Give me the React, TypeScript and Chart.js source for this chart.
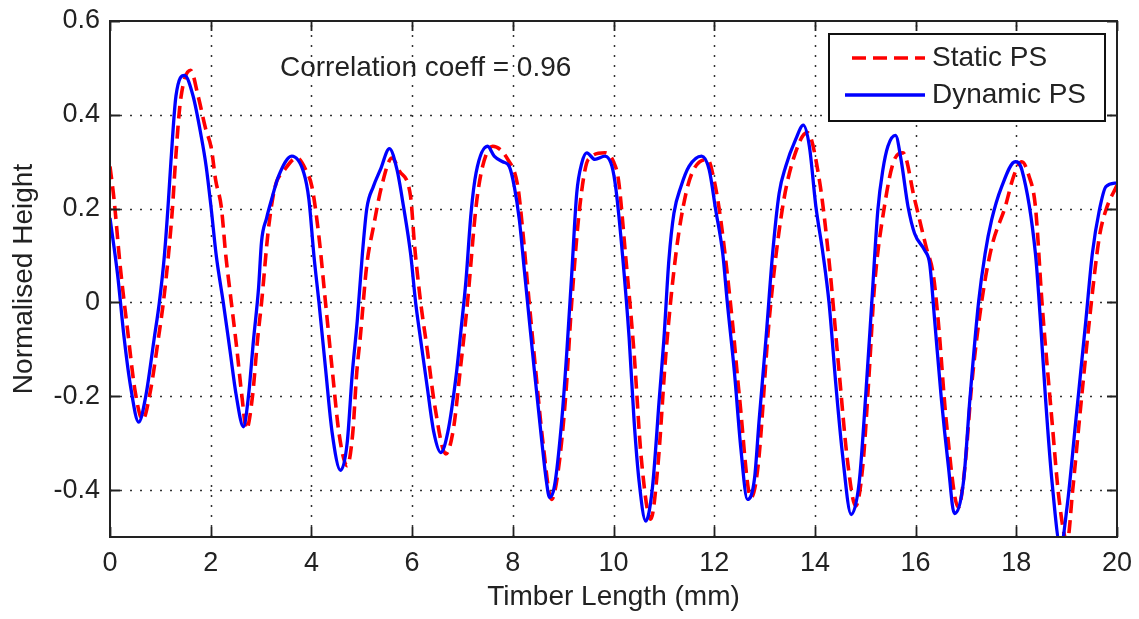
import React, { useEffect, useRef } from "react";
import { Chart, registerables } from "chart.js";

Chart.register(...registerables);

// ---- Data ----
const dynamicX = [
  0, 0.15, 0.28, 0.41, 0.57, 0.71, 0.88, 0.98, 1.08, 1.15, 1.21, 1.31, 1.48, 1.65, 1.81, 1.91, 2.01, 2.11, 2.25, 2.38,
  2.51, 2.65, 2.75, 2.85, 2.95, 3.01, 3.11, 3.21, 3.35, 3.61, 3.85, 3.95, 4.05, 4.15, 4.28, 4.41, 4.58, 4.71, 4.81, 4.91,
  5.01, 5.1, 5.23, 5.37, 5.55, 5.7, 5.83, 5.97, 6.07, 6.17, 6.3, 6.43, 6.57, 6.71, 6.87, 6.97, 7.07, 7.17, 7.27, 7.5,
  7.63, 7.8, 7.93, 8.03, 8.13, 8.23, 8.33, 8.43, 8.57, 8.67, 8.73, 8.83, 8.97, 9.07, 9.17, 9.27, 9.37, 9.47, 9.63, 9.83,
  9.97, 10.05, 10.18, 10.31, 10.41, 10.51, 10.64, 10.77, 10.91, 11.0, 11.1, 11.2, 11.34, 11.5, 11.75, 11.9, 12.03, 12.17, 12.26, 12.4,
  12.53, 12.66, 12.8, 12.89, 13.03, 13.16, 13.29, 13.42, 13.62, 13.77, 13.89, 14.02, 14.16, 14.28, 14.42, 14.55, 14.72, 14.88, 15.01, 15.13,
  15.25, 15.35, 15.45, 15.6, 15.71, 15.85, 15.98, 16.18, 16.28, 16.38, 16.51, 16.65, 16.77, 16.95, 17.08, 17.25, 17.38, 17.51, 17.71, 17.98,
  18.11, 18.38, 18.48, 18.58, 18.71, 18.88, 19.01, 19.18, 19.38, 19.51, 19.65, 19.78, 20,
];
const dynamicY = [
  0.18, 0.06, -0.075, -0.18, -0.255, -0.2, -0.075, 0, 0.1, 0.2, 0.3, 0.44, 0.484, 0.44, 0.355, 0.29, 0.2, 0.1, 0, -0.1,
  -0.2, -0.265, -0.2, -0.08, 0.03, 0.13, 0.18, 0.22, 0.27, 0.312, 0.276, 0.22, 0.1, 0, -0.14, -0.276, -0.358, -0.3, -0.154, -0.04,
  0.1, 0.2, 0.247, 0.283, 0.328, 0.283, 0.204, 0.104, 0, -0.08, -0.18, -0.276, -0.32, -0.276, -0.16, -0.06, 0.047, 0.19, 0.276, 0.333,
  0.312, 0.3, 0.29, 0.247, 0.176, 0.068, -0.04, -0.147, -0.29, -0.383, -0.416, -0.39, -0.254, -0.11, 0.06, 0.233, 0.297, 0.319, 0.305, 0.312,
  0.29, 0.24, 0.1, -0.075, -0.254, -0.383, -0.466, -0.398, -0.204, -0.08, 0.09, 0.19, 0.247, 0.29, 0.312, 0.283, 0.197, 0.104, 0, -0.147,
  -0.312, -0.42, -0.376, -0.254, -0.075, 0.104, 0.233, 0.29, 0.348, 0.378, 0.333, 0.204, 0.104, 0, -0.18, -0.326, -0.452, -0.383, -0.197, 0,
  0.197, 0.283, 0.333, 0.356, 0.305, 0.204, 0.147, 0.111, 0.082, -0.04, -0.204, -0.348, -0.45, -0.383, -0.204, 0, 0.104, 0.176, 0.247, 0.3,
  0.283, 0.104, -0.04, -0.204, -0.383, -0.52, -0.434, -0.254, -0.04, 0.104, 0.197, 0.247, 0.255,
];

const staticX = [
  0, 0.08, 0.2, 0.35, 0.5, 0.65, 0.8, 0.97, 1.06, 1.16, 1.24, 1.3, 1.4, 1.6, 1.75, 1.9, 2.01, 2.1, 2.21, 2.3,
  2.41, 2.52, 2.62, 2.71, 2.83, 2.93, 3.01, 3.15, 3.28, 3.45, 3.71, 3.9, 4.01, 4.15, 4.28, 4.42, 4.55, 4.71, 4.82, 4.9,
  4.97, 5.1, 5.23, 5.4, 5.6, 5.75, 5.97, 6.05, 6.17, 6.3, 6.45, 6.67, 6.82, 6.95, 7.1, 7.27, 7.4, 7.6, 7.9, 8.1,
  8.2, 8.3, 8.45, 8.6, 8.77, 8.9, 9.05, 9.17, 9.33, 9.5, 9.83, 10.0, 10.1, 10.24, 10.41, 10.55, 10.74, 10.88, 11.04, 11.24,
  11.44, 11.6, 11.87, 12.0, 12.13, 12.36, 12.5, 12.73, 12.87, 13.09, 13.36, 13.66, 13.85, 14.09, 14.28, 14.48, 14.65, 14.81, 14.95, 15.08,
  15.18, 15.38, 15.58, 15.75, 15.98, 16.21, 16.35, 16.45, 16.61, 16.85, 16.98, 17.11, 17.31, 17.51, 17.78, 17.95, 18.11, 18.25, 18.38, 18.51,
  18.71, 18.85, 19.01, 19.12, 19.25, 19.45, 19.65, 19.78, 20,
];
const staticY = [
  0.29, 0.22, 0.08, -0.06, -0.19, -0.25, -0.19, -0.07, 0, 0.1, 0.2, 0.3, 0.43, 0.495, 0.44, 0.37, 0.33, 0.26, 0.204, 0.1,
  0, -0.1, -0.2, -0.27, -0.2, -0.08, 0, 0.16, 0.247, 0.28, 0.308, 0.28, 0.247, 0.14, 0, -0.15, -0.28, -0.348, -0.28, -0.15,
  -0.075, 0.08, 0.16, 0.25, 0.308, 0.28, 0.226, 0.12, 0, -0.1, -0.22, -0.323, -0.27, -0.15, 0, 0.204, 0.29, 0.333, 0.305, 0.247,
  0.15, 0.03, -0.14, -0.3, -0.42, -0.36, -0.2, 0, 0.204, 0.305, 0.319, 0.3, 0.26, 0.1, -0.11, -0.33, -0.462, -0.35, -0.11, 0.104,
  0.233, 0.285, 0.305, 0.26, 0.176, -0.04, -0.2, -0.416, -0.35, -0.04, 0.204, 0.333, 0.362, 0.26, 0.09, -0.147, -0.34, -0.434, -0.35, -0.147,
  0.03, 0.204, 0.305, 0.319, 0.22, 0.118, 0.06, -0.04, -0.254, -0.437, -0.35, -0.18, 0, 0.118, 0.204, 0.27, 0.3, 0.27, 0.204, 0,
  -0.254, -0.42, -0.51, -0.4, -0.254, -0.04, 0.14, 0.197, 0.25,
];

const xTicks = [0, 2, 4, 6, 8, 10, 12, 14, 16, 18, 20];
const xTickLabels = ["0", "2", "4", "6", "8", "10", "12", "14", "16", "18", "20"];
const yTicks = [-0.4, -0.2, 0, 0.2, 0.4, 0.6];
const yTickLabels = ["-0.4", "-0.2", "0", "0.2", "0.4", "0.6"];
const xRange = [0, 20];
const yRange = [-0.5, 0.6];

const seriesNames = ["Static PS", "Dynamic PS"];
const annotationText = "Correlation coeff = 0.96";
const xTitle = "Timber Length (mm)";
const yTitle = "Normalised Height";

const FONT = "'Liberation Sans', Arial, sans-serif";
const TEXT = "#222";
const RED = "#ff0000";
const BLUE = "#0000ff";

const zeroPad = (s: any) => {
  s.paddingTop = 0;
  s.paddingBottom = 0;
  s.paddingLeft = 0;
  s.paddingRight = 0;
};

const decorPlugin = {
  id: "decor",
  beforeDatasetsDraw(chart: any) {
    const { ctx, chartArea: a, scales } = chart;
    const x = scales.x;
    const y = scales.y;
    ctx.save();
    ctx.strokeStyle = "#333";
    ctx.lineWidth = 1.5;
    ctx.setLineDash([2, 8]);
    for (const v of xTicks) {
      if (v <= xRange[0] || v >= xRange[1]) continue;
      const px = Math.round(x.getPixelForValue(v)) + 0.5;
      ctx.beginPath();
      ctx.moveTo(px, a.bottom);
      ctx.lineTo(px, a.top);
      ctx.stroke();
    }
    for (const v of yTicks) {
      if (v <= yRange[0] || v >= yRange[1]) continue;
      const py = Math.round(y.getPixelForValue(v)) + 0.5;
      ctx.beginPath();
      ctx.moveTo(a.left, py);
      ctx.lineTo(a.right, py);
      ctx.stroke();
    }
    ctx.restore();
  },
  afterDatasetsDraw(chart: any) {
    const { ctx, chartArea: a, scales } = chart;
    const x = scales.x;
    const y = scales.y;
    ctx.save();
    ctx.setLineDash([]);
    ctx.strokeStyle = "#222";
    ctx.lineWidth = 2;
    ctx.strokeRect(a.left, a.top, a.right - a.left, a.bottom - a.top);
    const tl = 10;
    ctx.lineWidth = 1.8;
    for (const v of xTicks) {
      const px = Math.round(x.getPixelForValue(v)) + 0.5;
      ctx.beginPath();
      ctx.moveTo(px, a.bottom);
      ctx.lineTo(px, a.bottom - tl);
      ctx.moveTo(px, a.top);
      ctx.lineTo(px, a.top + tl);
      ctx.stroke();
    }
    for (const v of yTicks) {
      const py = Math.round(y.getPixelForValue(v)) + 0.5;
      ctx.beginPath();
      ctx.moveTo(a.left, py);
      ctx.lineTo(a.left + tl, py);
      ctx.moveTo(a.right, py);
      ctx.lineTo(a.right - tl, py);
      ctx.stroke();
    }

    // annotation
    ctx.fillStyle = TEXT;
    ctx.font = `28px ${FONT}`;
    ctx.textAlign = "left";
    ctx.textBaseline = "middle";
    ctx.fillText(annotationText, a.left + 170, a.top + 47);

    // legend
    const bw = 276;
    const bh = 87;
    const bx = a.right - 12 - bw;
    const by = a.top + 13;
    ctx.fillStyle = "#fff";
    ctx.fillRect(bx, by, bw, bh);
    ctx.strokeStyle = "#111";
    ctx.lineWidth = 2;
    ctx.strokeRect(bx, by, bw, bh);

    const rowY = [by + 24, by + 61];
    ctx.lineWidth = 3.5;
    ctx.strokeStyle = RED;
    ctx.setLineDash([14, 7]);
    ctx.beginPath();
    ctx.moveTo(bx + 23, rowY[0]);
    ctx.lineTo(bx + 96, rowY[0]);
    ctx.stroke();
    ctx.setLineDash([]);
    ctx.strokeStyle = BLUE;
    ctx.lineWidth = 3.5;
    ctx.beginPath();
    ctx.moveTo(bx + 16, rowY[1]);
    ctx.lineTo(bx + 96, rowY[1]);
    ctx.stroke();

    ctx.fillStyle = TEXT;
    ctx.font = `28px ${FONT}`;
    ctx.fillText(seriesNames[0], bx + 103, rowY[0]);
    ctx.fillText(seriesNames[1], bx + 103, rowY[1]);
    ctx.restore();
  },
};

export default function App() {
  const ref = useRef<HTMLCanvasElement | null>(null);

  useEffect(() => {
    document.body.style.margin = "0";
    const canvas = ref.current;
    if (!canvas) return;
    const chart = new Chart(canvas, {
      type: "line",
      data: {
        datasets: [
          {
            label: seriesNames[1],
            data: dynamicX.map((x, i) => ({ x, y: dynamicY[i] })),
            borderColor: BLUE,
            borderWidth: 3.3,
            pointRadius: 0,
            cubicInterpolationMode: "monotone",
            fill: false,
            order: 0,
          },
          {
            label: seriesNames[0],
            data: staticX.map((x, i) => ({ x, y: staticY[i] })),
            borderColor: RED,
            borderWidth: 3.6,
            borderDash: [13, 7],
            pointRadius: 0,
            cubicInterpolationMode: "monotone",
            fill: false,
            order: 1,
          },
        ],
      },
      options: {
        animation: false,
        responsive: true,
        maintainAspectRatio: false,
        layout: { padding: { top: 21, right: 22, left: 0, bottom: 0 } },
        plugins: {
          legend: { display: false },
          tooltip: { enabled: false },
        },
        scales: {
          x: {
            type: "linear",
            min: xRange[0],
            max: xRange[1],
            grid: { display: false, drawTicks: false },
            border: { display: false },
            afterBuildTicks: (s: any) => {
              s.ticks = xTicks.map((v) => ({ value: v }));
            },
            afterFit: (s: any) => {
              s.height = 82;
              zeroPad(s);
            },
            ticks: {
              padding: 10,
              color: TEXT,
              font: { family: FONT, size: 27 },
              maxRotation: 0,
              autoSkip: false,
              callback: (v: any) => {
                const i = xTicks.indexOf(Number(v));
                return i >= 0 ? xTickLabels[i] : "";
              },
            },
            title: {
              display: true,
              text: xTitle,
              color: TEXT,
              font: { family: FONT, size: 28 },
              padding: { top: 0, bottom: 5 },
            },
          },
          y: {
            type: "linear",
            min: yRange[0],
            max: yRange[1],
            grid: { display: false, drawTicks: false },
            border: { display: false },
            afterBuildTicks: (s: any) => {
              s.ticks = yTicks.map((v) => ({ value: v }));
            },
            afterFit: (s: any) => {
              s.width = 110;
              zeroPad(s);
            },
            ticks: {
              padding: 10,
              color: TEXT,
              font: { family: FONT, size: 27 },
              autoSkip: false,
              callback: (v: any) => {
                const i = yTicks.findIndex((t) => Math.abs(t - Number(v)) < 1e-9);
                return i >= 0 ? yTickLabels[i] : "";
              },
            },
            title: {
              display: true,
              text: yTitle,
              color: TEXT,
              font: { family: FONT, size: 28 },
              padding: { top: 7, bottom: 0 },
            },
          },
        },
      },
      plugins: [decorPlugin],
    } as any);
    return () => chart.destroy();
  }, []);

  return (
    <div style={{ position: "fixed", left: 0, top: 0, width: 1139, height: 619, background: "#fff" }}>
      <canvas ref={ref} />
    </div>
  );
}
